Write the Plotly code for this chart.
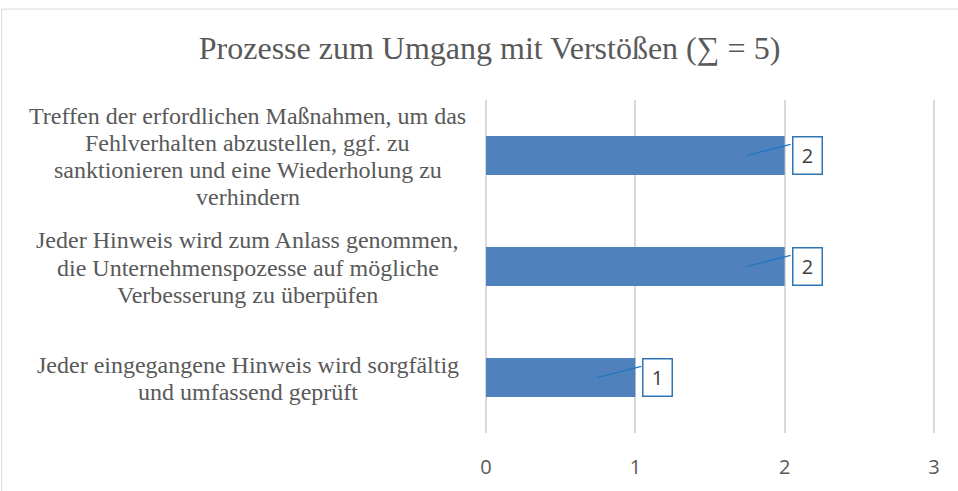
import plotly.graph_objects as go

title_text = "Prozesse zum Umgang mit Verstößen (∑ = 5)"
categories = [
    ["Jeder eingegangene Hinweis wird sorgfältig", "und umfassend geprüft"],
    ["Jeder Hinweis wird zum Anlass genommen,", "die Unternehmenspozesse auf mögliche",
     "Verbesserung zu überpüfen"],
    ["Treffen der erfordlichen Maßnahmen, um das", "Fehlverhalten abzustellen, ggf. zu",
     "sanktionieren und eine Wiederholung zu", "verhindern"],
]
values = [1, 2, 2]
x_ticks = [0, 1, 2, 3]

ypos = list(range(len(categories)))
bar_color = "#4F81BD"
label_blue = "#2E75B6"
text_gray = "#595959"
serif = "Liberation Serif, Times New Roman, serif"
sans = "Open Sans, Liberation Sans, sans-serif"
line_step = 27.3

fig = go.Figure()
fig.add_trace(go.Bar(
    x=values, y=ypos, orientation="h",
    marker=dict(color=bar_color, line=dict(width=0)),
    width=0.35, hoverinfo="skip",
))

annotations = []
shapes = []
for yi, lines, v in zip(ypos, categories, values):
    n = len(lines)
    for k, line in enumerate(lines):
        annotations.append(dict(
            x=-0.527, xref="paper", y=yi, yref="y", text=line, showarrow=False,
            xanchor="center", yanchor="middle", align="center",
            yshift=((n - 1) / 2 - k) * line_step - 1,
            font=dict(family=serif, size=24, color=text_gray),
        ))
    annotations.append(dict(
        x=v, y=yi, xref="x", yref="y", text=str(v), showarrow=False,
        xanchor="left", yanchor="middle", xshift=7,
        width=26, height=34, borderpad=1, borderwidth=1.5,
        bordercolor=label_blue, bgcolor="white",
        font=dict(family=sans, size=20, color="#404040"),
    ))
    shapes.append(dict(
        type="line", xref="x", yref="y",
        x0=v - 0.254, y0=yi, x1=v + 0.04, y1=yi + 0.1,
        line=dict(color="#1F74C0", width=1.2),
    ))

shapes.append(dict(
    type="rect", xref="paper", yref="paper",
    x0=-1.074, y0=-0.3, x1=1.2, y1=1.273,
    line=dict(color="#D9D9D9", width=1), layer="below",
))

fig.update_layout(
    width=958, height=491,
    margin=dict(l=485, r=23, t=100, b=58),
    paper_bgcolor="white", plot_bgcolor="white",
    showlegend=False,
    title=dict(
        text=title_text, x=0.511, xanchor="center", y=0.902, yanchor="middle",
        font=dict(family=serif, size=32, color=text_gray),
    ),
    xaxis=dict(
        range=[-0.007, 3.007], tickvals=x_ticks, ticktext=[str(t) for t in x_ticks],
        showgrid=True, gridcolor="#D9D9D9", gridwidth=1.5,
        zeroline=False, showline=False, ticks="",
        tickfont=dict(family=sans, size=20, color=text_gray),
        ticklabelstandoff=20, fixedrange=True,
    ),
    yaxis=dict(
        range=[-0.5, 2.5], showticklabels=False, showgrid=False,
        zeroline=False, showline=False, ticks="", fixedrange=True,
    ),
    annotations=annotations,
    shapes=shapes,
)

fig.write_html("out.html", post_script="document.body.style.margin='0';",
               config={"displayModeBar": False})
